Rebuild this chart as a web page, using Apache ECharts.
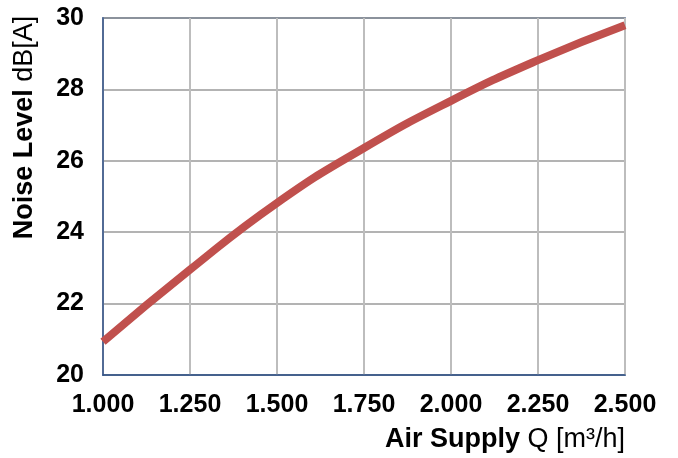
<!DOCTYPE html>
<html><head><meta charset="utf-8">
<script src="https://cdn.jsdelivr.net/npm/echarts@6/dist/echarts.min.js"></script>
<style>html,body{margin:0;padding:0;background:#fff}#c{width:678px;height:458px}</style>
</head><body><div id="c"></div>
<script>
const airSupply = [1.0, 1.25, 1.5, 1.75, 2.0, 2.25, 2.5];
const noiseLevel = [20.93, 22.95, 24.82, 26.36, 27.68, 28.82, 29.8];
const xTicks = {min: 1.0, max: 2.5, interval: 0.25};
const yTicks = {min: 20, max: 30, interval: 2};

const chart = echarts.init(document.getElementById('c'));
const font = '"Liberation Sans", Arial, sans-serif';
chart.setOption({
  animation: false,
  grid: {left: 103, right: 53, top: 18, bottom: 83, show: true, borderColor: '#2f5188', borderWidth: 1.5, backgroundColor: '#fff'},
  xAxis: {
    type: 'value', min: xTicks.min, max: xTicks.max, interval: xTicks.interval,
    axisLine: {show: true, lineStyle: {color: '#2f5188', width: 1.5}},
    axisTick: {show: false},
    splitLine: {show: true, lineStyle: {color: '#bdbdbd', width: 2}},
    axisLabel: {color: '#000', fontFamily: font, fontWeight: 'bold', fontSize: 25, margin: 18,
      formatter: v => v.toFixed(3)},
    name: '{b|Air Supply }{n|Q [m³/h]}',
    nameLocation: 'end', nameGap: 0,
    nameTextStyle: {align: 'right', verticalAlign: 'top', padding: [51, 0, 0, 0],
      rich: {b: {fontFamily: font, fontWeight: 'bold', fontSize: 27, color: '#000'},
             n: {fontFamily: font, fontSize: 27, color: '#000'}}}
  },
  yAxis: {
    type: 'value', min: yTicks.min, max: yTicks.max, interval: yTicks.interval,
    axisLine: {show: true, lineStyle: {color: '#2f5188', width: 1.5}},
    axisTick: {show: false},
    splitLine: {show: true, lineStyle: {color: '#9a9a9a', width: 1.5}},
    axisLabel: {color: '#000', fontFamily: font, fontWeight: 'bold', fontSize: 25, margin: 19},
    name: '{b|Noise Level }{n|dB[A]}',
    nameLocation: 'middle', nameRotate: 90, nameGap: 65,
    nameTextStyle: {padding: [0, 0, 0, 138],
      rich: {b: {fontFamily: font, fontWeight: 'bold', fontSize: 27, color: '#000'},
             n: {fontFamily: font, fontSize: 27, color: '#000'}}}
  },
  series: [{
    type: 'line', smooth: true, symbol: 'none',
    data: airSupply.map((x, i) => [x, noiseLevel[i]]),
    lineStyle: {color: '#c0504d', width: 8}
  }]
});
</script></body></html>
